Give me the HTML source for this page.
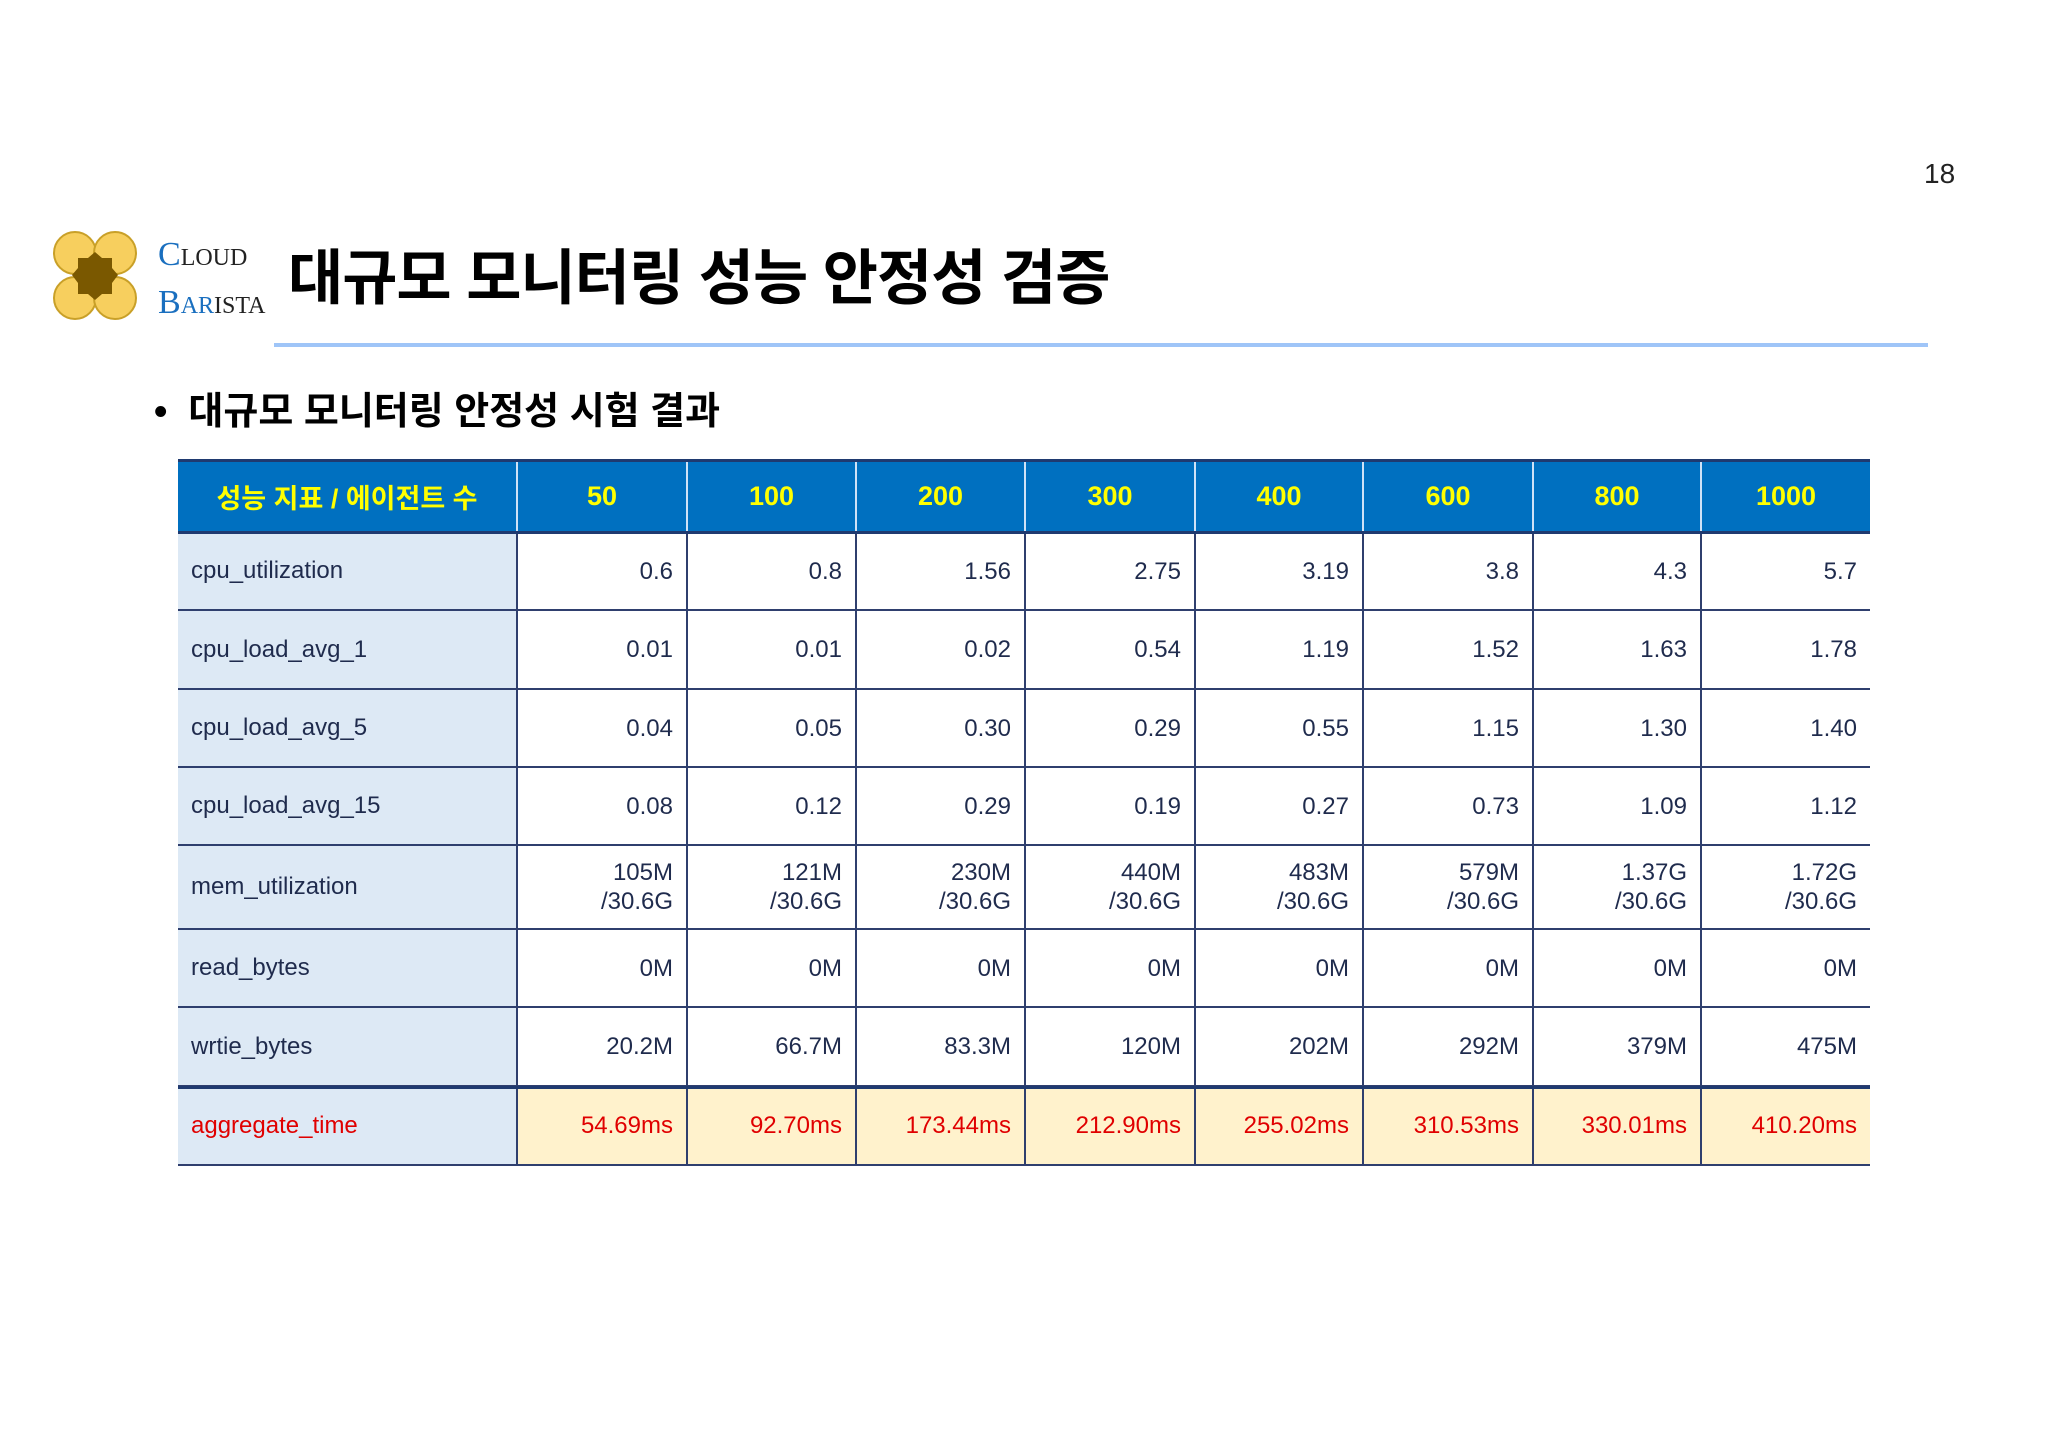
<!DOCTYPE html>
<html><head><meta charset="utf-8">
<style>
body{margin:0;width:2048px;height:1449px;background:#fff;position:relative;overflow:hidden;font-family:"Liberation Sans","Noto Sans CJK KR",sans-serif;}
.abs{position:absolute;}
.cell{position:absolute;box-sizing:border-box;display:flex;align-items:center;font-size:24px;color:#1f2b4d;}
.hdr{background:#0070c0;color:#ffff00;font-weight:bold;font-size:27px;justify-content:center;}
.lbl{background:#dde9f5;padding-left:13px;}
.num{justify-content:flex-end;padding-right:13px;text-align:right;line-height:29px;}
.agg{background:#fff2cc;color:#e00000;}
</style></head>
<body>
<div class="abs" style="left:1924px;top:158px;font-size:28px;color:#222;">18</div>
<svg class="abs" style="left:50px;top:228px" width="220" height="110" viewBox="0 0 220 110">
 <g fill="#f7cf5e" stroke="#c9a028" stroke-width="2">
  <circle cx="25" cy="25" r="21"/><circle cx="65" cy="25" r="21"/>
  <circle cx="25" cy="70" r="21"/><circle cx="65" cy="70" r="21"/>
 </g>
 <path d="M28 30 L38 30 L45 24 L52 30 L62 30 L62 40 L68 47 L62 55 L62 66 L52 66 L45 72 L38 66 L28 66 L28 55 L22 47 L28 40 Z" fill="#7a5800"/>
 <text x="108" y="37" font-family="Liberation Serif,serif" font-size="34" fill="#1a6fbf">C<tspan font-size="24" fill="#222">LOUD</tspan></text>
 <text x="108" y="85" font-family="Liberation Serif,serif" font-size="34" fill="#1a6fbf">B<tspan font-size="24">AR</tspan><tspan font-size="24" fill="#222">ISTA</tspan></text>
</svg>
<div class="abs" style="left:288px;top:230px;font-size:60px;font-weight:bold;color:#000;letter-spacing:-1px;">대규모 모니터링 성능 안정성 검증</div>
<div class="abs" style="left:274px;top:343px;width:1654px;height:4px;background:#9fc5f8;"></div>
<div class="abs" style="left:154px;top:380px;font-size:38px;font-weight:bold;color:#000;">•&nbsp; 대규모 모니터링 안정성 시험 결과</div>
<div id="tbl"></div>
<script>
const agentCounts=["50","100","200","300","400","600","800","1000"];
const metricNames=["cpu_utilization","cpu_load_avg_1","cpu_load_avg_5","cpu_load_avg_15","mem_utilization","read_bytes","wrtie_bytes","aggregate_time"];
const cpuUtil=["0.6","0.8","1.56","2.75","3.19","3.8","4.3","5.7"];
const load1=["0.01","0.01","0.02","0.54","1.19","1.52","1.63","1.78"];
const load5=["0.04","0.05","0.30","0.29","0.55","1.15","1.30","1.40"];
const load15=["0.08","0.12","0.29","0.19","0.27","0.73","1.09","1.12"];
const memUsed=["105M","121M","230M","440M","483M","579M","1.37G","1.72G"];
const memTotal="/30.6G";
const readBytes=["0M","0M","0M","0M","0M","0M","0M","0M"];
const writeBytes=["20.2M","66.7M","83.3M","120M","202M","292M","379M","475M"];
const aggTime=["54.69ms","92.70ms","173.44ms","212.90ms","255.02ms","310.53ms","330.01ms","410.20ms"];
const rows=[cpuUtil,load1,load5,load15,memUsed.map(m=>m+"<br>"+memTotal),readBytes,writeBytes,aggTime];
const colX=[178,516,686,855,1024,1194,1362,1532,1700,1870];
const rowY=[460,533,611,690,768,846,930,1008,1087,1166];
const tbl=document.getElementById('tbl');
const lineColor='#2f3f6e';
function cell(x,y,w,h,cls,html){
  const d=document.createElement('div');
  d.className='cell '+cls;
  d.style.left=x+'px';d.style.top=y+'px';d.style.width=w+'px';d.style.height=h+'px';
  d.innerHTML=html;tbl.appendChild(d);return d;
}
const hd=cell(colX[0],rowY[0],colX[1]-colX[0],rowY[1]-rowY[0],'hdr','성능 지표 / 에이전트 수');


agentCounts.forEach((a,i)=>{
  const c=cell(colX[i+1],rowY[0],colX[i+2]-colX[i+1],rowY[1]-rowY[0],'hdr',a);
  c.style.borderLeft='2px solid #cfe2f7';
  
  
});
metricNames.forEach((m,r)=>{
  const y=rowY[r+1],hh=rowY[r+2]-y,isAgg=r===7;
  const l=cell(colX[0],y,colX[1]-colX[0],hh,'lbl',m);
  if(isAgg)l.style.color='#e00000';
  l.style.borderBottom='2px solid '+lineColor;
  
  
  rows[r].forEach((v,i)=>{
    const c=cell(colX[i+1],y,colX[i+2]-colX[i+1],hh,'num'+(isAgg?' agg':''),v);
    c.style.borderLeft='2px solid '+lineColor;
    c.style.borderBottom='2px solid '+lineColor;
    
    
  });
});
const topLine=document.createElement('div');
topLine.className='abs';topLine.style.cssText='left:178px;top:459px;width:1692px;height:3px;background:#1f3a70';


tbl.appendChild(topLine);
const hb=document.createElement('div');
hb.className='abs';hb.style.cssText='left:178px;top:531px;width:1692px;height:3px;background:#1f3a70';


tbl.appendChild(hb);
const ab=document.createElement('div');
ab.className='abs';ab.style.cssText='left:178px;top:1086px;width:1692px;height:3px;background:#1f3a70';


tbl.appendChild(ab);
</script>
</body></html>
